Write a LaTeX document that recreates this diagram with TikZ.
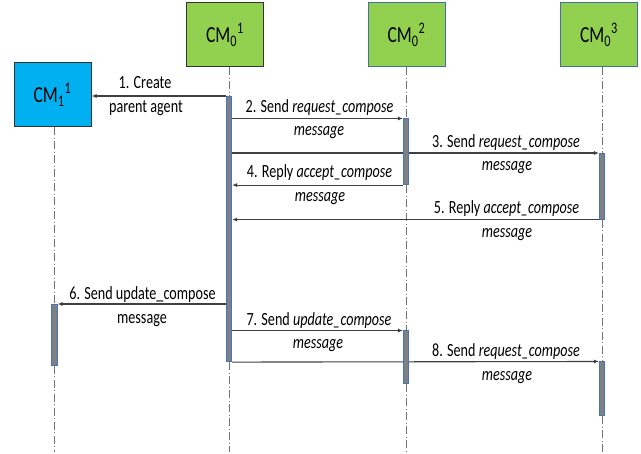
\documentclass[tikz,border=0pt]{standalone}
\usepackage{fontspec}
\setmainfont{Carlito}[FakeStretch=0.76]
\usetikzlibrary{arrows.meta,backgrounds}
\definecolor{cmgreen}{HTML}{92D050}
\definecolor{cmblue}{HTML}{00B0F0}
\definecolor{baredge}{HTML}{4472C4}
\definecolor{boxedge}{HTML}{41719C}

\begin{document}
\begin{tikzpicture}[x=1pt,y=-1pt,
  agent/.style={line width=1pt,minimum width=77pt,minimum height=64pt,inner sep=0pt,font=\fontsize{23}{26}\selectfont},
  actbar/.style={draw=baredge,fill=black!50,line width=0.6pt,minimum width=5.5pt,inner sep=0pt,anchor=north},
  life/.style={draw=black!55,line width=0.8pt,dash pattern=on 8pt off 2.5pt on 1pt off 2.5pt},
  msg/.style={draw=black!75,line width=1.1pt,-{Latex[length=5pt,width=4pt]}},
  lbl/.style={anchor=base,inner sep=0pt,font=\fontsize{18.6}{20}\selectfont}]
\useasboundingbox (0,0) rectangle (641,454);
\coordinate (bottom) at (0,452);
\node[agent,draw=black!80,fill=cmgreen] (cm01) at (225,35) {CM\textsubscript{0}\textsuperscript{1}};
\node[agent,draw=boxedge,fill=cmgreen] (cm02) at (406.5,35) {CM\textsubscript{0}\textsuperscript{2}};
\node[agent,draw=boxedge,fill=cmgreen] (cm03) at (599,35) {CM\textsubscript{0}\textsuperscript{3}};
\node[agent,draw=black!80,fill=cmblue] (cm11) at (52.5,95) {CM\textsubscript{1}\textsuperscript{1}};
\node[actbar,minimum height=265.5pt] (bar01a) at (229,96) {};
\node[actbar,minimum height=66pt] (bar02a) at (406,118.5) {};
\node[actbar,minimum height=66pt] (bar03a) at (602,153) {};
\node[actbar,minimum height=61pt] (bar11a) at (54.5,304) {};
\node[actbar,minimum height=53pt] (bar02b) at (406,330.5) {};
\node[actbar,minimum height=54pt] (bar03b) at (602,361.5) {};
\begin{scope}[on background layer]
\draw[life] (cm01.south -| bar01a) -- (bar01a.north);
\draw[life] (bar01a.south) -- (bar01a.south |- bottom);
\draw[life] (cm02.south -| bar02a) -- (bar02a.north);
\draw[life] (bar02a.south) -- (bar02b.north);
\draw[life] (bar02b.south) -- (bar02b.south |- bottom);
\draw[life] (cm03.south -| bar03a) -- (bar03a.north);
\draw[life] (bar03a.south) -- (bar03b.north);
\draw[life] (bar03b.south) -- (bar03b.south |- bottom);
\draw[life] (cm11.south -| bar11a) -- (bar11a.north);
\draw[life] (bar11a.south) -- (bar11a.south |- bottom);
\draw[msg] (bar01a.north west) -- (bar01a.north west -| cm11.east);
\draw[msg] (bar01a.east |- bar02a.north west) -- (bar02a.north west);
\draw[msg] (bar01a.east |- bar03a.north west) -- (bar03a.north west);
\draw[msg] (bar02a.south west) -- (bar02a.south west -| bar01a.east);
\draw[msg] (bar03a.south west) -- (bar03a.south west -| bar01a.east);
\draw[msg] (bar01a.west |- bar11a.north east) -- (bar11a.north east);
\draw[msg] (bar01a.east |- bar02b.north west) -- (bar02b.north west);
\draw[msg] (bar01a.south east) -- (bar03b.north west);
\end{scope}
\node[lbl] (m1a) at (145,89) {1. Create};
\node[lbl] (m1b) at (146,112.7) {parent agent};
\node[lbl] (m2a) at (319.5,113) {2. Send \textit{request\_compose}};
\node[lbl] (m2b) at (319,136) {\textit{message}};
\node[lbl] (m3a) at (506,148) {3. Send \textit{request\_compose}};
\node[lbl] (m3b) at (507,171) {\textit{message}};
\node[lbl] (m4a) at (319.5,178) {4. Reply \textit{accept\_compose}};
\node[lbl] (m4b) at (320,201.5) {\textit{message}};
\node[lbl] (m5a) at (506.5,214) {5. Reply \textit{accept\_compose}};
\node[lbl] (m5b) at (507,237.5) {\textit{message}};
\node[lbl] (m6a) at (142.5,300) {6. Send update\_compose};
\node[lbl] (m6b) at (142,324) {message};
\node[lbl] (m7a) at (319,326) {7. Send \textit{update\_compose}};
\node[lbl] (m7b) at (318,349) {\textit{message}};
\node[lbl] (m8a) at (506,357) {8. Send \textit{request\_compose}};
\node[lbl] (m8b) at (507,381) {\textit{message}};
\end{tikzpicture}
\end{document}
